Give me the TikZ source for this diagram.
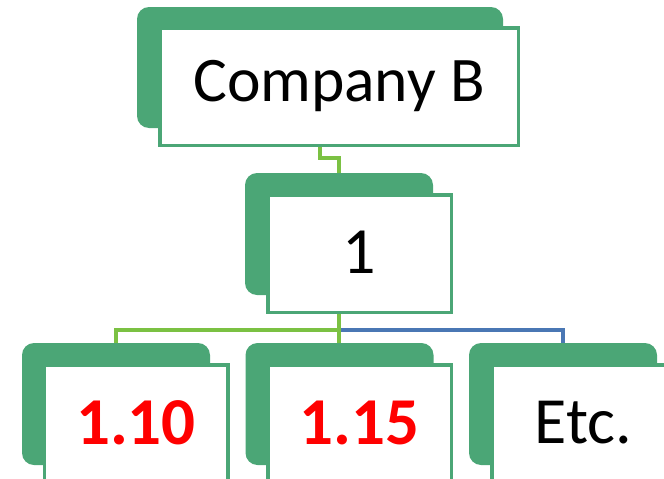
\documentclass[tikz,border=0pt]{standalone}
\usepackage{fontspec}
\setmainfont{Carlito}
\definecolor{boxgreen}{HTML}{4BA676}
\definecolor{limeline}{HTML}{7BC143}
\definecolor{blueline}{HTML}{4A77B4}
\begin{document}
\begin{tikzpicture}[x=1pt,y=-1pt,
  shadowbox/.style={fill=boxgreen,draw=none,rounded corners=12pt,minimum width=188pt,minimum height=122pt,inner sep=0pt},
  whitebox/.style={fill=white,draw=boxgreen,line width=3.5pt,minimum width=183.5pt,minimum height=117.5pt,inner sep=0pt},
  lbl/.style={font=\fontsize{66}{66}\selectfont},
  redlbl/.style={font=\fontsize{67}{67}\selectfont\bfseries,text=red},
  limecon/.style={draw=limeline,line width=3.5pt},
  bluecon/.style={draw=blueline,line width=3.5pt}]
\useasboundingbox (0,0) rectangle (664,479);
\clip (0,0) rectangle (664,479);
% top
\node[shadowbox,minimum width=366pt,minimum height=121pt] (sh0) at (320,67.5) {};
\node[whitebox,minimum width=358.5pt] (w0) at (339,86.5) {};
\node[lbl,font=\fontsize{63.5}{63.5}\selectfont] (t0) at (339,86) {Company B};
% level 1
\node[shadowbox] (sh1) at (339,234) {};
\node[whitebox] (w1) at (359.5,253.5) {};
\node[lbl] (t1) at (359.5,252.5) {1};
% level 2
\node[shadowbox] (shA) at (116,404) {};
\node[whitebox] (wA) at (136,423.5) {};
\node[redlbl] (tA) at (136,423) {1.10};
\node[shadowbox] (shB) at (339.5,404) {};
\node[whitebox] (wB) at (359.5,423.5) {};
\node[redlbl] (tB) at (359.5,423) {1.15};
\node[shadowbox] (shC) at (563,404) {};
\node[whitebox] (wC) at (583.5,423.5) {};
\node[lbl] (tC) at (583.5,423) {Etc.};
% connectors
\coordinate (hub) at (339,330);
\draw[limecon] ([xshift=-19pt]w0.south) -- ++(0,11) -| (sh1.north);
\draw[bluecon] (hub) -| (shC.north);
\draw[limecon] (hub) -| (shA.north);
\draw[limecon] (sh1.center |- w1.south) -- (sh1.center |- shB.north);
\end{tikzpicture}
\end{document}
